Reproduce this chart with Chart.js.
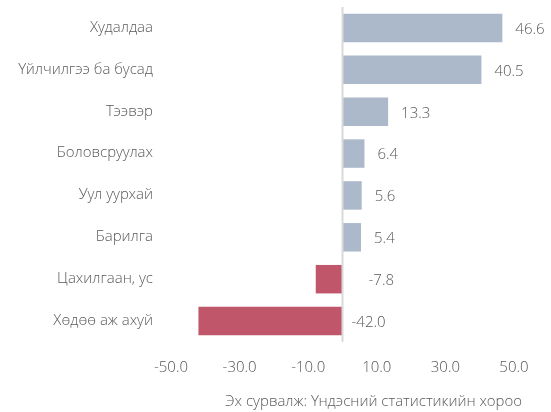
<!DOCTYPE html>
<html>
<head>
<meta charset="utf-8">
<script src="https://cdn.jsdelivr.net/npm/chart.js@4"></script>
<style>
  html, body { margin: 0; padding: 0; background: #fff; }
  #wrap { width: 551px; height: 412px; }
</style>
</head>
<body>
<div id="wrap"><canvas id="chart" width="551" height="412"></canvas></div>
<script>
// Sectors and their values
const categories = ['Худалдаа', 'Үйлчилгээ ба бусад', 'Тээвэр', 'Боловсруулах', 'Уул уурхай', 'Барилга', 'Цахилгаан, ус', 'Хөдөө аж ахуй'];
const values = [46.6, 40.5, 13.3, 6.4, 5.6, 5.4, -7.8, -42.0];
const xTicks = [-50, -30, -10, 10, 30, 50];
const sourceNote = 'Эх сурвалж: Үндэсний статистикийн хороо';

const textColor = '#595959';
const fontFamily = "'Open Sans Light', 'Open Sans', 'Noto Sans', sans-serif";
const fontSize = 15;

// zero line, value labels and the source note
const extras = {
  id: 'extras',
  afterDatasetsDraw(chart) {
    const ctx = chart.ctx;
    const x = chart.scales.x;
    const area = chart.chartArea;
    const zero = x.getPixelForValue(0);

    ctx.save();
    ctx.strokeStyle = '#d9d9d9';
    ctx.lineWidth = 2;
    ctx.beginPath();
    ctx.moveTo(zero, area.top);
    ctx.lineTo(zero, area.bottom);
    ctx.stroke();

    ctx.font = '300 ' + fontSize + 'px ' + fontFamily;
    ctx.fillStyle = textColor;
    ctx.textBaseline = 'middle';
    ctx.textAlign = 'left';
    const bars = chart.getDatasetMeta(0).data;
    bars.forEach((bar, i) => {
      const v = values[i];
      let lx;
      if (v >= 0) lx = bar.x + 13;
      else lx = zero + (v < -20 ? 9 : 26);
      ctx.fillText(v.toFixed(1), lx, bar.y + 2);
    });

    ctx.textAlign = 'right';
    ctx.fillText(sourceNote, 522, 402);
    ctx.restore();
  }
};

new Chart(document.getElementById('chart'), {
  type: 'bar',
  data: {
    labels: categories,
    datasets: [{
      data: values,
      backgroundColor: values.map(v => v < 0 ? '#c0566a' : '#acb9ca'),
      barPercentage: 0.68,
      categoryPercentage: 1
    }]
  },
  options: {
    indexAxis: 'y',
    responsive: false,
    animation: false,
    layout: { padding: { left: 0, right: 37, top: 7, bottom: 18 } },
    plugins: {
      legend: { display: false },
      tooltip: { enabled: false }
    },
    scales: {
      x: {
        min: -50,
        max: 50,
        afterBuildTicks: s => { s.ticks = xTicks.map(v => ({ value: v })); },
        grid: { display: false, drawTicks: false },
        border: { display: false },
        ticks: {
          color: textColor,
          font: { family: fontFamily, size: fontSize, weight: '300' },
          padding: 17,
          callback: v => v.toFixed(1)
        }
      },
      y: {
        afterFit: s => { s.width = 171; s.paddingTop = 0; s.paddingBottom = 0; },
        grid: { display: false, drawTicks: false },
        border: { display: false },
        ticks: {
          color: textColor,
          font: { family: fontFamily, size: fontSize, weight: '300' },
          padding: 18
        }
      }
    }
  },
  plugins: [extras]
});
</script>
</body>
</html>
